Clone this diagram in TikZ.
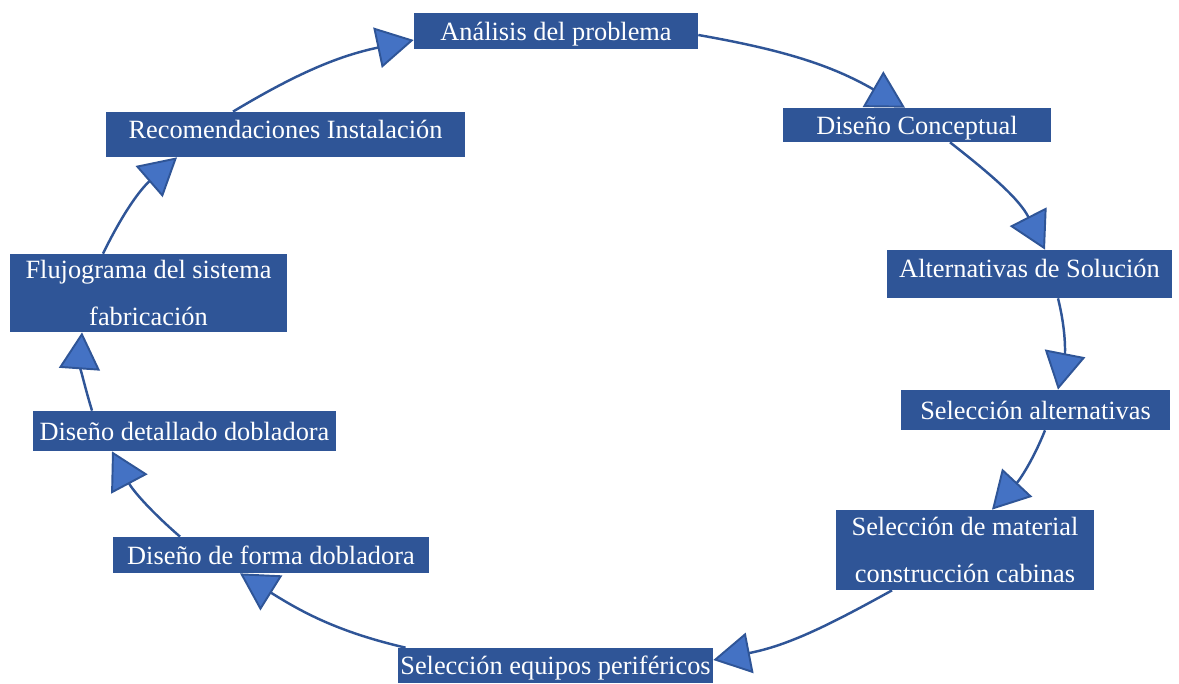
\documentclass[tikz,border=0pt]{standalone}
\usepackage{fontspec}
\setmainfont{Liberation Serif}
\usetikzlibrary{arrows.meta}
\definecolor{boxblue}{RGB}{47,85,151}
\definecolor{tipblue}{RGB}{68,114,196}

\begin{document}
\begin{tikzpicture}[x=0.02cm, y=0.02cm,
             every node/.style = {fill=boxblue, text=white, inner sep=0pt,
                                  font=\fontsize{15}{26.5}\selectfont},
             line/.style={text height=12pt, text depth=1.5pt},
             flow/.style={draw=boxblue, line width=1.4pt,
                          -{Triangle[length=0.74cm, width=0.82cm, fill=tipblue, line width=1.1pt]}}]
\useasboundingbox (0,0) rectangle (1179,683);

\node (ana) at (556,652) [line, minimum width=5.68cm, minimum height=0.72cm] {Análisis del problema};
\node (con) at (917,558) [line, minimum width=5.36cm, minimum height=0.68cm] {Diseño Conceptual};
\node (alt) at (1029.5,409) [line, text depth=8pt, minimum width=5.70cm, minimum height=0.96cm] {Alternativas de Solución};
\node (sel) at (1035.5,273) [line, minimum width=5.38cm, minimum height=0.80cm] {Selección alternativas};
\node (mat) at (965,133) [align=center, minimum width=5.16cm, minimum height=1.60cm] {Selección de material\\construcción cabinas};
\node (equ) at (555.5,17.5) [line, minimum width=6.30cm, minimum height=0.70cm] {Selección equipos periféricos};
\node (forma) at (271,128) [line, minimum width=6.32cm, minimum height=0.72cm] {Diseño de forma dobladora};
\node (det) at (184.5,252) [line, minimum width=6.06cm, minimum height=0.80cm] {Diseño detallado dobladora};
\node (flu) at (148.5,390) [align=center, minimum width=5.54cm, minimum height=1.56cm] {Flujograma del sistema\\fabricación};
\node (rec) at (285.5,548.5) [line, text depth=8pt, minimum width=7.20cm, minimum height=0.90cm] {Recomendaciones Instalación};

\draw [flow] ([xshift=-1.05cm]rec.north) to[out=31, in=192] ([yshift=-0.18cm]ana.west);
\draw [flow] ([yshift=-0.08cm]ana.east) to[out=-10, in=150] ([xshift=-0.24cm]con.north);
\draw [flow] ([xshift=0.66cm]con.south) to[out=-38, in=117] ([xshift=0.31cm]alt.north);
\draw [flow] ([xshift=0.57cm]alt.south) to[out=-76, in=79] ([xshift=0.45cm]sel.north);
\draw [flow] ([xshift=0.19cm]sel.south) to[out=-112, in=47] ([xshift=0.54cm]mat.north);
\draw [flow] ([xshift=-1.46cm]mat.south) to[out=-151, in=11] ([yshift=0.11cm]equ.east);
\draw [flow] ([xshift=-3.0cm]equ.north) to[out=167, in=-32] ([xshift=-0.62cm]forma.south);
\draw [flow] ([xshift=-1.82cm]forma.north) to[out=139, in=-62] ([xshift=-1.45cm]det.south);
\draw [flow] ([xshift=-1.85cm]det.north) to[out=107, in=-94] ([xshift=-1.33cm]flu.south);
\draw [flow] ([xshift=-0.91cm]flu.north) to[out=64, in=221] ([xshift=-2.17cm]rec.south);

\end{tikzpicture}
\end{document}
